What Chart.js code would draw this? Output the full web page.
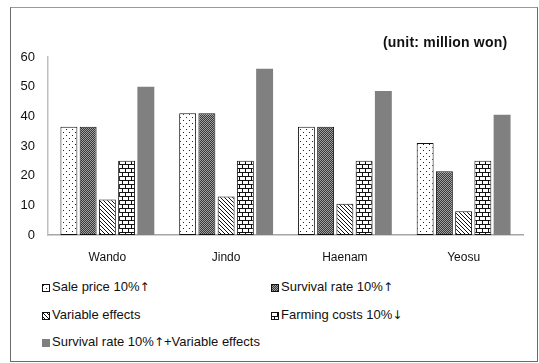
<!DOCTYPE html>
<html>
<head>
<meta charset="utf-8">
<script src="https://cdn.jsdelivr.net/npm/chart.js@4/dist/chart.umd.min.js"></script>
<style>
    body { margin: 0; background: #fff; font-family: "Liberation Sans", Arial, sans-serif; }
    #frame { position: absolute; left: 10px; top: 7px; width: 526px; height: 353px; border: 1px solid #6b6b6b; border-top-color: #9a9a9a; }
    #wrap { position: absolute; left: 11px; top: 8px; width: 526px; height: 265px; }
    #title { position: absolute; left: 383px; top: 34px; font-weight: bold; font-size: 14px; letter-spacing: 0.2px; color: #111; white-space: nowrap; }
    .item { position: absolute; font-size: 13px; color: #111; white-space: nowrap; line-height: 14px; }
    .item canvas { vertical-align: -1px; margin-right: 2px; }
    .arrow { font-family: "DejaVu Sans", sans-serif; font-size: 12px; }
</style>
</head>
<body>
<div id="frame"></div>
<div id="wrap"><canvas id="chart"></canvas></div>
<div id="title">(unit: million won)</div>
<div id="legend"></div>
<script>
var categories = ['Wando', 'Jindo', 'Haenam', 'Yeosu'];
var seriesNames = ['Sale price 10%\u2191', 'Survival rate 10%\u2191', 'Variable effects', 'Farming costs 10%\u2193', 'Survival rate 10%\u2191+Variable effects'];
var salePrice = [36.5, 41, 36.5, 31];
var survivalRate = [36.5, 41, 36.5, 21.5];
var variableEffects = [12, 13, 10.5, 8];
var farmingCosts = [25, 25, 25, 25];
var survivalVariable = [50, 56, 48.5, 40.5];
var yTicks = [0, 10, 20, 30, 40, 50, 60];

// pattern tiles
function makePattern(w, h, draw) {
    var c = document.createElement('canvas');
    c.width = w; c.height = h;
    var g = c.getContext('2d');
    draw(g, w, h);
    return document.getElementById('chart').getContext('2d').createPattern(c, 'repeat');
}
var dots = makePattern(6, 6, function (g) {
    g.fillStyle = '#fff'; g.fillRect(0, 0, 6, 6);
    g.fillStyle = '#222'; g.fillRect(1, 1, 1, 1); g.fillRect(4, 4, 1, 1);
});
var checker = makePattern(2, 2, function (g) {
    g.fillStyle = '#a0a0a0'; g.fillRect(0, 0, 2, 2);
    g.fillStyle = '#383838'; g.fillRect(0, 0, 1, 1); g.fillRect(1, 1, 1, 1);
});
var hatch = makePattern(4, 4, function (g) {
    g.fillStyle = '#fff'; g.fillRect(0, 0, 4, 4);
    g.strokeStyle = '#111'; g.lineWidth = 1;
    g.beginPath();
    g.moveTo(-1, -1); g.lineTo(5, 5);
    g.moveTo(-1, 3); g.lineTo(1, 5);
    g.moveTo(3, -1); g.lineTo(5, 1);
    g.stroke();
});
var brick = makePattern(12, 8, function (g) {
    g.fillStyle = '#fff'; g.fillRect(0, 0, 12, 8);
    g.fillStyle = '#111';
    g.fillRect(0, 0, 12, 1); g.fillRect(0, 4, 12, 1);
    g.fillRect(0, 0, 1, 4); g.fillRect(6, 0, 1, 4);
    g.fillRect(3, 4, 1, 4); g.fillRect(9, 4, 1, 4);
});

var fills = [dots, checker, hatch, brick, '#808080'];
var borders = [1, 1, 1, 1, 0];
var values = [salePrice, survivalRate, variableEffects, farmingCosts, survivalVariable];

var datasets = [];
values.forEach(function (v, i) {
    datasets.push({
        label: seriesNames[i],
        data: v,
        backgroundColor: fills[i],
        borderColor: '#111',
        borderWidth: borders[i],
        borderSkipped: false,
        categoryPercentage: 0.81,
        barPercentage: 0.88
    });
});

var chart = new Chart(document.getElementById('chart'), {
    type: 'bar',
    data: { labels: categories, datasets: datasets },
    options: {
        responsive: true,
        maintainAspectRatio: false,
        animation: false,
        layout: { padding: { top: 49, right: 14, left: 0, bottom: 0 } },
        plugins: { legend: { display: false }, tooltip: { enabled: false } },
        scales: {
            x: {
                grid: { display: false, drawTicks: false },
                border: { display: true, color: '#a6a6a6', width: 1.5 },
                ticks: { color: '#111', font: { size: 12, family: 'Liberation Sans' }, padding: 15 },
                afterFit: function (s) { s.height = 38; }
            },
            y: {
                min: 0, max: 60,
                afterBuildTicks: function (s) { s.ticks = yTicks.map(function (t) { return { value: t }; }); },
                grid: { display: false, drawTicks: false },
                border: { display: true, color: '#c0c0c0', width: 1.5 },
                ticks: { color: '#111', font: { size: 13, family: 'Liberation Sans' }, padding: 13 },
                afterFit: function (s) { s.width = 37; }
            }
        }
    }
});

// legend in two columns
var legendPos = [[42, 280], [271, 280], [42, 308], [271, 308], [42, 335]];
var legend = document.getElementById('legend');
seriesNames.forEach(function (name, i) {
    var div = document.createElement('div');
    div.className = 'item';
    div.style.left = legendPos[i][0] + 'px';
    div.style.top = legendPos[i][1] + 'px';
    var sw = document.createElement('canvas');
    sw.width = 8; sw.height = 8;
    var g = sw.getContext('2d');
    g.fillStyle = fills[i];
    g.fillRect(0, 0, 8, 8);
    if (borders[i]) { g.strokeStyle = '#111'; g.lineWidth = 1; g.strokeRect(0.5, 0.5, 7, 7); }
    div.appendChild(sw);
    // arrows in a font that draws them full size
    name.split(/([\u2191\u2193])/).forEach(function (part) {
        if (part === '\u2191' || part === '\u2193') {
            var a = document.createElement('span');
            a.className = 'arrow';
            a.textContent = part;
            div.appendChild(a);
        } else if (part) {
            div.appendChild(document.createTextNode(part));
        }
    });
    legend.appendChild(div);
});
</script>
</body>
</html>
